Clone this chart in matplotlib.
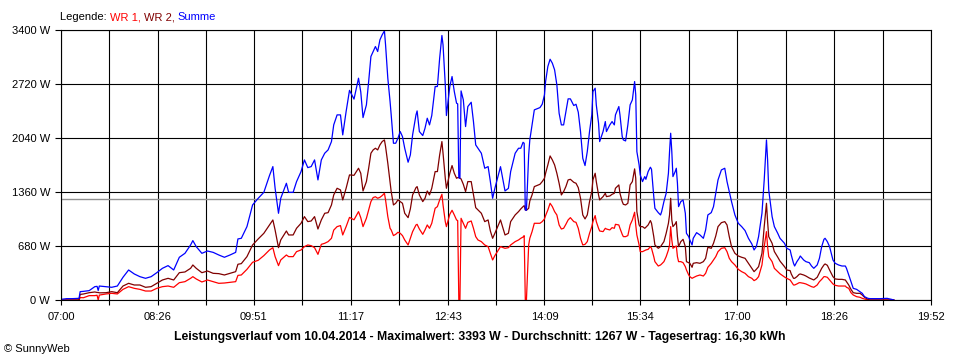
import numpy as np
import matplotlib
matplotlib.use("Agg")
import matplotlib.pyplot as plt

plt.rcParams['font.family'] = ['Liberation Sans', 'DejaVu Sans']

# readings, 10.04.2014
times = [
    "07:00", "07:05", "07:10", "07:16", "07:17", "07:20", "07:25", "07:30", "07:32", "07:33",
    "07:34", "07:40", "07:45", "07:50", "07:55", "08:00", "08:05", "08:10", "08:15", "08:20",
    "08:25", "08:30", "08:35", "08:40", "08:45", "08:50", "08:55", "08:57", "09:00", "09:05",
    "09:10", "09:15", "09:20", "09:25", "09:30", "09:35", "09:37", "09:40", "09:45", "09:50",
    "09:55", "10:00", "10:05", "10:08", "10:10", "10:13", "10:15", "10:20", "10:22", "10:26",
    "10:29", "10:33", "10:36", "10:39", "10:42", "10:45", "10:48", "10:51", "10:54", "10:57",
    "11:00", "11:02", "11:05", "11:08", "11:10", "11:13", "11:16", "11:20", "11:24", "11:26",
    "11:28", "11:31", "11:33", "11:35", "11:37", "11:39", "11:41", "11:43", "11:45", "11:47",
    "11:48", "11:50", "11:52", "11:53", "11:55", "11:57", "11:59", "12:01", "12:03", "12:05",
    "12:08", "12:10", "12:12", "12:15", "12:16", "12:18", "12:21", "12:23", "12:25", "12:27",
    "12:29", "12:32", "12:34", "12:36", "12:38", "12:39", "12:41", "12:42", "12:45", "12:47",
    "12:49", "12:51", "12:52", "12:53", "12:54", "12:55", "12:57", "12:59", "13:01", "13:04",
    "13:06", "13:08", "13:10", "13:13", "13:16", "13:19", "13:21", "13:23", "13:25", "13:30",
    "13:34", "13:37", "13:39", "13:43", "13:46", "13:48", "13:50", "13:51", "13:52", "13:53",
    "13:55", "13:56", "13:58", "14:00", "14:05", "14:07", "14:09", "14:10", "14:12", "14:14",
    "14:16", "14:18", "14:20", "14:22", "14:24", "14:26", "14:28", "14:30", "14:32", "14:35",
    "14:37", "14:39", "14:41", "14:43", "14:45", "14:47", "14:49", "14:51", "14:52", "14:54",
    "14:55", "14:57", "14:58", "15:01", "15:03", "15:04", "15:07", "15:09", "15:11", "15:12",
    "15:15", "15:16", "15:18", "15:19", "15:21", "15:23", "15:25", "15:27", "15:29", "15:30",
    "15:31", "15:33", "15:34", "15:36", "15:38", "15:39", "15:41", "15:43", "15:44", "15:46",
    "15:47", "15:50", "15:52", "15:53", "15:55", "15:57", "15:59", "16:00", "16:01", "16:02",
    "16:03", "16:05", "16:06", "16:07", "16:08", "16:10", "16:12", "16:14", "16:15", "16:17",
    "16:18", "16:20", "16:21", "16:24", "16:27", "16:30", "16:32", "16:34", "16:37", "16:39",
    "16:41", "16:43", "16:46", "16:49", "16:51", "16:53", "16:55", "16:58", "17:01", "17:04",
    "17:07", "17:10", "17:13", "17:15", "17:17", "17:19", "17:22", "17:24", "17:26", "17:27",
    "17:28", "17:31", "17:33", "17:36", "17:38", "17:42", "17:44", "17:47", "17:48", "17:50",
    "17:51", "17:53", "17:55", "17:56", "17:59", "18:01", "18:04", "18:06", "18:08", "18:11",
    "18:13", "18:15", "18:17", "18:18", "18:20", "18:22", "18:25", "18:27", "18:30", "18:33",
    "18:36", "18:37", "18:39", "18:41", "18:43", "18:46", "18:49", "18:51", "18:53", "18:56",
    "18:58", "19:07", "19:13", "19:17", "19:19",
]
summe = [
    8, 17, 17, 21, 105, 109, 118, 168, 172, 120,
    176, 168, 160, 176, 286, 378, 328, 294, 273, 294,
    344, 399, 433, 378, 538, 588, 693, 748, 672, 588,
    617, 600, 567, 538, 567, 600, 769, 777, 924, 1197,
    1281, 1356, 1567, 1680, 1406, 1092, 1281, 1470, 1356, 1356,
    1490, 1617, 1764, 1667, 1680, 1764, 1512, 1764, 1848, 1890,
    1995, 2205, 2331, 2331, 2079, 2373, 2640, 2530, 2793, 2620,
    2297, 2457, 2751, 3066, 3129, 3192, 3129, 3276, 3339, 3389,
    3213, 2793, 2499, 2331, 1974, 1974, 2037, 2121, 2058, 1911,
    1735, 1827, 2079, 2331, 2381, 2121, 2071, 2163, 2289, 2205,
    2323, 2688, 2688, 3045, 3331, 3213, 2709, 2323, 2688, 2814,
    2625, 2478, 2470, 1541, 1533, 2633, 2520, 2184, 2436, 2490,
    2247, 1953, 1911, 1848, 1659, 1680, 1491, 1281, 1406, 1679,
    1373, 1406, 1617, 1848, 1911, 1911, 1986, 1974, 1134, 1130,
    1827, 2016, 2205, 2394, 2423, 2465, 2583, 2751, 2940, 3032,
    2982, 2898, 2709, 2352, 2205, 2205, 2373, 2533, 2533, 2449,
    2465, 2365, 2121, 1785, 1693, 1869, 2121, 2331, 2625, 2667,
    2457, 2226, 1995, 2121, 2247, 2121, 2205, 2247, 2205, 2331,
    2436, 2331, 2058, 2016, 2003, 2205, 2457, 2520, 2751, 2583,
    1869, 1701, 1575, 1491, 1554, 1520, 1617, 1672, 1646, 1302,
    1155, 1100, 1071, 1113, 1239, 1344, 1596, 1869, 2100, 1869,
    1554, 1617, 1659, 1470, 1176, 1239, 1260, 1092, 840, 798,
    756, 693, 777, 848, 819, 777, 882, 1071, 1100, 1176,
    1344, 1512, 1638, 1659, 1491, 1365, 1239, 1071, 966, 924,
    874, 777, 706, 630, 672, 798, 1092, 1512, 2016, 1764,
    1386, 1050, 924, 840, 777, 714, 651, 630, 567, 462,
    428, 483, 525, 554, 504, 483, 470, 428, 399, 441,
    525, 672, 764, 777, 735, 672, 504, 462, 441, 428,
    428, 399, 315, 231, 147, 134, 105, 84, 42, 21,
    17, 17, 21, 8, 0,
]
wr2 = [
    0, 0, 0, 0, 70, 76, 92, 101, 95, 95,
    90, 92, 105, 92, 176, 210, 189, 189, 160, 168,
    210, 252, 273, 252, 344, 353, 399, 441, 399, 344,
    365, 336, 332, 315, 336, 357, 450, 458, 546, 693,
    769, 840, 945, 1008, 880, 659, 756, 869, 819, 819,
    903, 966, 1050, 987, 995, 1050, 894, 1008, 1092, 1100,
    1197, 1323, 1407, 1386, 1260, 1407, 1575, 1570, 1659, 1596,
    1373, 1491, 1659, 1848, 1890, 1911, 1890, 1953, 1995, 2016,
    1932, 1722, 1491, 1365, 1197, 1218, 1260, 1239, 1218, 1092,
    1037, 1147, 1323, 1415, 1428, 1323, 1239, 1281, 1373, 1323,
    1407, 1617, 1617, 1827, 1995, 1848, 1533, 1407, 1596, 1693,
    1596, 1533, 1541, 1541, 1533, 1525, 1457, 1365, 1491, 1491,
    1323, 1163, 1134, 1092, 987, 1008, 869, 777, 840, 1008,
    819, 840, 987, 1071, 1113, 1147, 1176, 1188, 1134, 1130,
    1155, 1247, 1323, 1428, 1457, 1491, 1533, 1596, 1701, 1814,
    1764, 1701, 1596, 1470, 1323, 1365, 1428, 1512, 1520, 1482,
    1470, 1415, 1281, 1071, 1021, 1071, 1239, 1365, 1512, 1596,
    1491, 1323, 1260, 1302, 1344, 1302, 1310, 1331, 1344, 1407,
    1449, 1344, 1239, 1205, 1197, 1218, 1449, 1491, 1651, 1533,
    1113, 945, 924, 924, 903, 916, 945, 1000, 966, 798,
    693, 651, 672, 693, 735, 840, 966, 1071, 1281, 1008,
    924, 958, 987, 798, 672, 735, 764, 672, 483, 470,
    462, 412, 462, 470, 462, 483, 525, 664, 651, 714,
    806, 924, 974, 987, 945, 798, 672, 588, 554, 538,
    525, 462, 399, 357, 386, 420, 588, 924, 1218, 987,
    798, 714, 610, 540, 490, 420, 378, 370, 328, 273,
    273, 294, 323, 328, 315, 302, 277, 265, 252, 286,
    344, 399, 441, 454, 437, 378, 294, 265, 260, 260,
    252, 231, 189, 134, 92, 84, 84, 63, 34, 8,
    0, 0, 0, 0, 0,
]
wr1 = [
    0, 0, 0, 0, 30, 29, 55, 55, 60, 0,
    62, 76, 84, 76, 134, 168, 147, 134, 113, 113,
    147, 168, 176, 160, 218, 231, 273, 294, 265, 227,
    252, 231, 210, 214, 223, 231, 310, 315, 386, 475,
    500, 559, 630, 659, 546, 433, 504, 567, 546, 546,
    609, 630, 672, 693, 684, 659, 575, 701, 714, 735,
    777, 880, 924, 937, 819, 924, 1040, 1010, 1113, 1037,
    924, 1029, 1134, 1239, 1290, 1300, 1281, 1293, 1315, 1344,
    1260, 1050, 903, 882, 811, 827, 853, 840, 811, 756,
    693, 777, 861, 945, 953, 894, 827, 882, 945, 903,
    966, 1155, 1176, 1260, 1331, 1197, 987, 924, 1079, 1130,
    1071, 1008, 1000, 0, 0, 1029, 966, 903, 978, 995,
    903, 798, 756, 735, 693, 672, 588, 504, 559, 672,
    651, 659, 693, 735, 756, 777, 793, 810, 0, 0,
    693, 777, 861, 966, 966, 987, 1021, 1063, 1134, 1218,
    1176, 1113, 1071, 945, 894, 903, 953, 1008, 1037, 987,
    978, 903, 777, 693, 701, 735, 840, 924, 987, 1063,
    987, 903, 869, 861, 903, 894, 882, 911, 903, 953,
    945, 903, 827, 798, 798, 811, 945, 1008, 1105, 945,
    819, 693, 609, 609, 622, 630, 638, 672, 651, 546,
    483, 428, 441, 454, 483, 546, 630, 693, 924, 756,
    651, 672, 680, 546, 483, 483, 470, 420, 378, 315,
    294, 273, 281, 302, 315, 302, 336, 412, 462, 504,
    546, 609, 651, 659, 609, 525, 483, 441, 386, 357,
    336, 294, 273, 244, 260, 294, 441, 672, 861, 672,
    546, 483, 399, 357, 330, 290, 273, 252, 231, 189,
    189, 202, 218, 218, 210, 202, 181, 168, 160, 189,
    231, 260, 294, 294, 286, 252, 202, 185, 176, 176,
    176, 160, 147, 92, 63, 42, 34, 21, 13, 0,
    0, 0, 0, 0, 0,
]

x_labels = ["07:00", "08:26", "09:51", "11:17", "12:43",
            "14:09", "15:34", "17:00", "18:26", "19:52"]
y_ticks = [0, 680, 1360, 2040, 2720, 3400]
average = 1267
title = ("Leistungsverlauf vom 10.04.2014 - Maximalwert: 3393 W - "
         "Durchschnitt: 1267 W - Tagesertrag: 16,30 kWh")

RED, DARKRED, BLUE = "#ff0000", "#800000", "#0000ff"


def to_min(s):
    h, m = s.split(":")
    return int(h) * 60 + int(m)


t = np.array([to_min(s) for s in times])
xt = np.array([to_min(s) for s in x_labels], dtype=float)
x_half = (xt[:-1] + xt[1:]) / 2

fig = plt.figure(figsize=(9.6, 3.6), dpi=100)
ax = fig.add_axes([61 / 960, 60 / 360, 870 / 960, 270 / 360])
ax.set_xlim(xt[0], xt[-1])
ax.set_ylim(0, 3400)

# black grid, every half label step vertically
for x in np.concatenate([xt, x_half]):
    ax.axvline(x, color="black", lw=0.8, zorder=1)
for y in y_ticks:
    ax.axhline(y, color="black", lw=0.8, zorder=1)
ax.axhline(average, color="#909090", lw=1.0, zorder=2)

ax.plot(t, wr1, color=RED, lw=0.9, zorder=3)
ax.plot(t, wr2, color=DARKRED, lw=0.9, zorder=3)
ax.plot(t, summe, color=BLUE, lw=0.9, zorder=3)

for sp in ax.spines.values():
    sp.set_color("black")
    sp.set_linewidth(0.8)
    sp.set_zorder(5)

ax.set_xticks(xt)
ax.set_xticklabels(x_labels)
ax.set_xticks(x_half, minor=True)
ax.set_yticks(y_ticks)
ax.set_yticklabels([f"{v} W" for v in y_ticks])
ax.tick_params(axis="x", which="both", length=3.8, width=0.8, pad=4.5, labelsize=8)
ax.tick_params(axis="y", length=4.3, width=0.8, pad=3.5, labelsize=8)

# legend line: coloured words one after another
parts = [("Legende: ", "black"), ("WR 1, ", RED), ("WR 2, ", DARKRED), ("Summe", BLUE)]
txt = fig.text(60 / 960, 1 - 17 / 360, parts[0][0], color=parts[0][1],
               fontsize=8, va="center", ha="left")
for s, c in parts[1:]:
    txt = ax.annotate(s, xy=(1, 0), xycoords=txt, va="bottom", ha="left",
                      color=c, fontsize=8, annotation_clip=False)

fig.text(0.5, 1 - 337 / 360, title, ha="center", va="center",
         fontsize=8.8, fontweight="bold")
fig.text(4 / 960, 1 - 349 / 360, "© SunnyWeb", ha="left", va="center", fontsize=8)

fig.savefig("out.png", dpi=100)
